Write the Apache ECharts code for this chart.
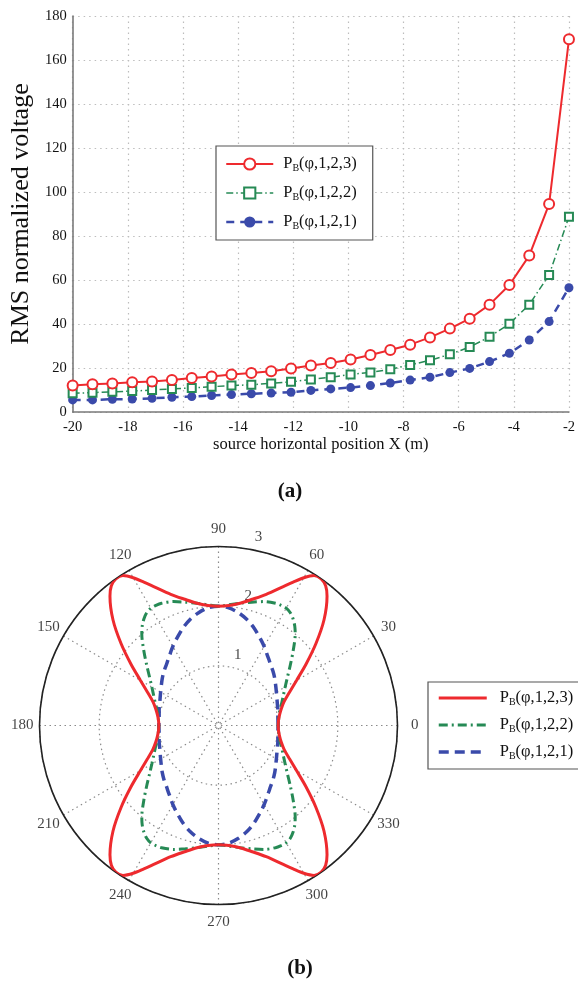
<!DOCTYPE html>
<html>
<head>
<meta charset="utf-8">
<script src="https://cdn.jsdelivr.net/npm/echarts@6/dist/echarts.min.js"></script>
<style>
  html, body { margin: 0; padding: 0; background: #fff; }
  #chart { width: 578px; height: 987px; }
</style>
</head>
<body>
<div id="chart"></div>
<script>
// ---- (a) RMS normalized voltage against source horizontal position ----
const positionX = [-20, -19.28, -18.56, -17.84, -17.12, -16.4, -15.68, -14.96, -14.24, -13.52,
  -12.8, -12.08, -11.36, -10.64, -9.92, -9.2, -8.48, -7.76, -7.04, -6.32,
  -5.6, -4.88, -4.16, -3.44, -2.72, -2];
const rmsN3 = [12.0, 12.6, 13.0, 13.5, 13.9, 14.5, 15.5, 16.1, 17.0, 17.7,
  18.5, 19.8, 21.1, 22.3, 23.9, 25.9, 28.2, 30.6, 33.9, 37.9,
  42.4, 48.8, 57.7, 71.1, 94.5, 169.4];
const rmsN2 = [8.5, 8.8, 9.2, 9.5, 10.0, 10.5, 10.9, 11.5, 12.0, 12.4,
  13.0, 13.7, 14.8, 15.8, 17.1, 18.0, 19.4, 21.4, 23.5, 26.2,
  29.5, 34.2, 40.1, 48.8, 62.3, 88.7];
const rmsN1 = [5.5, 5.5, 5.8, 5.9, 6.2, 6.7, 7.0, 7.5, 7.9, 8.3,
  8.6, 9.0, 9.8, 10.5, 11.1, 12.0, 13.2, 14.5, 15.8, 17.9,
  19.8, 22.9, 26.7, 32.7, 41.1, 56.5];

// ---- (b) polar patterns, first quadrant (deg -> radius) ----
const quadrantAngles = [0, 5, 10, 15, 20, 25, 30, 35, 40, 45, 50, 52.5, 55, 57.5, 60, 62.5, 65, 70, 75, 80, 85, 90];
const patternN3 = [1.00, 1.01, 1.04, 1.09, 1.17, 1.31, 1.51, 1.79, 2.13, 2.50, 2.83, 2.95, 3.00, 2.98, 2.86, 2.71, 2.57, 2.34, 2.19, 2.08, 2.02, 2.00];
const patternN2 = [1.00, 1.01, 1.03, 1.07, 1.13, 1.20, 1.29, 1.41, 1.57, 1.77, 2.00, 2.10, 2.18, 2.24, 2.27, 2.27, 2.26, 2.21, 2.14, 2.08, 2.03, 2.00];
const patternN1 = [1.00, 1.00, 1.01, 1.03, 1.05, 1.08, 1.12, 1.17, 1.23, 1.29, 1.35, 1.39, 1.43, 1.48, 1.53, 1.58, 1.63, 1.74, 1.84, 1.92, 1.98, 2.00];

const angleTicks = [0, 30, 60, 90, 120, 150, 180, 210, 240, 270, 300, 330];
const radiusTicks = [1, 2, 3];
const curveArgs = ['(φ,1,2,3)', '(φ,1,2,2)', '(φ,1,2,1)'];

const SERIF = '"Liberation Serif", "Times New Roman", serif';
const RED = '#ee2a2e', GREEN = '#268a55', BLUE = '#3a4aaa';

// The patterns are symmetric about both axes: unfold the quadrant over the full turn
function unfold(radii) {
  const n = quadrantAngles.length;
  const pts = [];
  for (let i = 0; i < n; i++) pts.push([radii[i], quadrantAngles[i]]);
  for (let i = n - 2; i >= 0; i--) pts.push([radii[i], 180 - quadrantAngles[i]]);
  for (let i = 1; i < n; i++) pts.push([radii[i], 180 + quadrantAngles[i]]);
  for (let i = n - 2; i >= 0; i--) pts.push([radii[i], 360 - quadrantAngles[i]]);
  return pts;
}
const pairs = ys => positionX.map((x, i) => [x, ys[i]]);

function legendRich(gap) {
  return {
    p: { fontFamily: SERIF, fontSize: 16.5, color: '#111', lineHeight: 18 },
    s: { fontFamily: SERIF, fontSize: 10, color: '#111', lineHeight: 18, padding: [8, 0, 0, 0] },
    g: { width: gap }
  };
}
const legendFormatter = name => `{g|}{p|P}{s|B}{p|${name.slice(2)}}`;

const xNames = curveArgs.map(a => 'X ' + a);
const pNames = curveArgs.map(a => 'φ ' + a);
const dotted = { type: [1.5, 4], color: '#bdbdbd', width: 1.2 };
const polarDotted = { type: [1.5, 3.5], color: '#8a8a8a', width: 1.2 };
const labelR = 3 * 1.097;

const option = {
  animation: false,
  backgroundColor: '#fff',
  grid: { left: 71, right: 3, top: 16, bottom: 575 },
  xAxis: {
    type: 'value', min: -20, max: -2, interval: 2,
    name: 'source horizontal position X (m)', nameLocation: 'middle', nameGap: 22,
    nameTextStyle: { fontFamily: SERIF, fontSize: 16.5, color: '#111' },
    axisLine: { lineStyle: { color: '#7a7a7a', width: 1.6 } },
    axisTick: { show: false },
    axisLabel: { fontFamily: SERIF, fontSize: 14.5, color: '#111', margin: 8 },
    splitLine: { show: true, lineStyle: dotted }
  },
  yAxis: {
    type: 'value', min: 0, max: 180, interval: 20,
    name: 'RMS normalized voltage', nameLocation: 'middle', nameGap: 38,
    nameTextStyle: { fontFamily: SERIF, fontSize: 26, color: '#111' },
    axisLine: { show: true, lineStyle: { color: '#7a7a7a', width: 1.6 } },
    axisTick: { show: false },
    axisLabel: { fontFamily: SERIF, fontSize: 14.5, color: '#111', margin: 6 },
    splitLine: { show: true, lineStyle: dotted }
  },
  polar: { center: [218.5, 725.5], radius: 179 },
  angleAxis: {
    type: 'value', min: 0, max: 360, interval: 30, startAngle: 0, clockwise: false,
    axisLine: { show: true, lineStyle: { color: '#222', width: 1.6 } },
    axisTick: { show: false },
    axisLabel: { show: false },
    splitLine: { show: true, lineStyle: polarDotted }
  },
  radiusAxis: {
    type: 'value', min: 0, max: 3, interval: 1,
    axisLine: { show: false }, axisTick: { show: false }, axisLabel: { show: false },
    splitLine: { show: true, lineStyle: polarDotted }
  },
  legend: [
    {
      orient: 'vertical', left: 216, top: 146, padding: [9, 16, 9, 9],
      itemWidth: 47, itemHeight: 14, itemGap: 11,
      borderColor: '#555', borderWidth: 1.2, backgroundColor: '#fff', borderRadius: 0,
      data: [
        { name: xNames[0], lineStyle: { width: 2 } },
        { name: xNames[1], lineStyle: { width: 1.5, type: [7, 3, 1.5, 3] } },
        { name: xNames[2], lineStyle: { width: 2.5, type: [8, 6] } }
      ],
      formatter: legendFormatter, textStyle: { rich: legendRich(5) }
    },
    {
      orient: 'vertical', left: 428, top: 682, padding: [7, 14, 8, 9],
      itemWidth: 48, itemHeight: 14, itemGap: 9,
      borderColor: '#555', borderWidth: 1.2, backgroundColor: '#fff', borderRadius: 0,
      itemStyle: { opacity: 0 },
      data: [
        { name: pNames[0], lineStyle: { width: 3 } },
        { name: pNames[1], lineStyle: { width: 3, type: [9, 4, 2, 4] } },
        { name: pNames[2], lineStyle: { width: 3.5, type: [10, 6] } }
      ],
      formatter: legendFormatter, textStyle: { rich: legendRich(8) }
    }
  ],
  series: [
    {
      name: xNames[0], type: 'line', data: pairs(rmsN3), z: 5,
      symbol: 'emptyCircle', symbolSize: 10, showAllSymbol: true,
      itemStyle: { color: RED, borderWidth: 1.8 },
      lineStyle: { color: RED, width: 2 }
    },
    {
      name: xNames[1], type: 'line', data: pairs(rmsN2), z: 4,
      symbol: 'emptyRect', symbolSize: 8, showAllSymbol: true,
      itemStyle: { color: GREEN, borderWidth: 1.5 },
      lineStyle: { color: GREEN, width: 1.5, type: [7, 3, 1.5, 3] }
    },
    {
      name: xNames[2], type: 'line', data: pairs(rmsN1), z: 3,
      symbol: 'circle', symbolSize: 9, showAllSymbol: true,
      itemStyle: { color: BLUE },
      lineStyle: { color: BLUE, width: 2.5, type: [8, 6] }
    },
    {
      name: pNames[2], type: 'line', coordinateSystem: 'polar', data: unfold(patternN1),
      symbol: 'none', smooth: 0.3, z: 3,
      itemStyle: { color: BLUE },
      lineStyle: { color: BLUE, width: 3.5, type: [10, 6] }
    },
    {
      name: pNames[1], type: 'line', coordinateSystem: 'polar', data: unfold(patternN2),
      symbol: 'none', smooth: 0.3, z: 4,
      itemStyle: { color: GREEN },
      lineStyle: { color: GREEN, width: 3, type: [9, 4, 2, 4] }
    },
    {
      name: pNames[0], type: 'line', coordinateSystem: 'polar', data: unfold(patternN3),
      symbol: 'none', smooth: 0.3, z: 5,
      itemStyle: { color: RED },
      lineStyle: { color: RED, width: 3 }
    },
    {
      // angle tick labels around the outer circle
      type: 'scatter', coordinateSystem: 'polar', clip: false, silent: true,
      symbolSize: 1, itemStyle: { color: 'rgba(0,0,0,0)' },
      data: angleTicks.map(a => ({ value: [labelR, a], name: String(a) })),
      label: { show: true, position: 'inside', formatter: '{b}',
        fontFamily: SERIF, fontSize: 15, color: '#111' }
    },
    {
      // radius tick labels
      type: 'scatter', coordinateSystem: 'polar', clip: false, silent: true,
      symbolSize: 1, itemStyle: { color: 'rgba(0,0,0,0)' },
      data: radiusTicks.map(r => ({ value: [r, 80], name: String(r) })),
      label: { show: true, position: 'inside', formatter: '{b}', offset: [9, -12],
        fontFamily: SERIF, fontSize: 15, color: '#111' }
    }
  ],
  graphic: [
    { type: 'text', x: 290, y: 492, style: { text: '(a)', font: 'bold 21px ' + SERIF, fill: '#111', align: 'center', verticalAlign: 'middle' } },
    { type: 'text', x: 300, y: 969, style: { text: '(b)', font: 'bold 21px ' + SERIF, fill: '#111', align: 'center', verticalAlign: 'middle' } }
  ]
};

const chart = echarts.init(document.getElementById('chart'), null, { renderer: 'canvas' });
chart.setOption(option);
</script>
</body>
</html>
